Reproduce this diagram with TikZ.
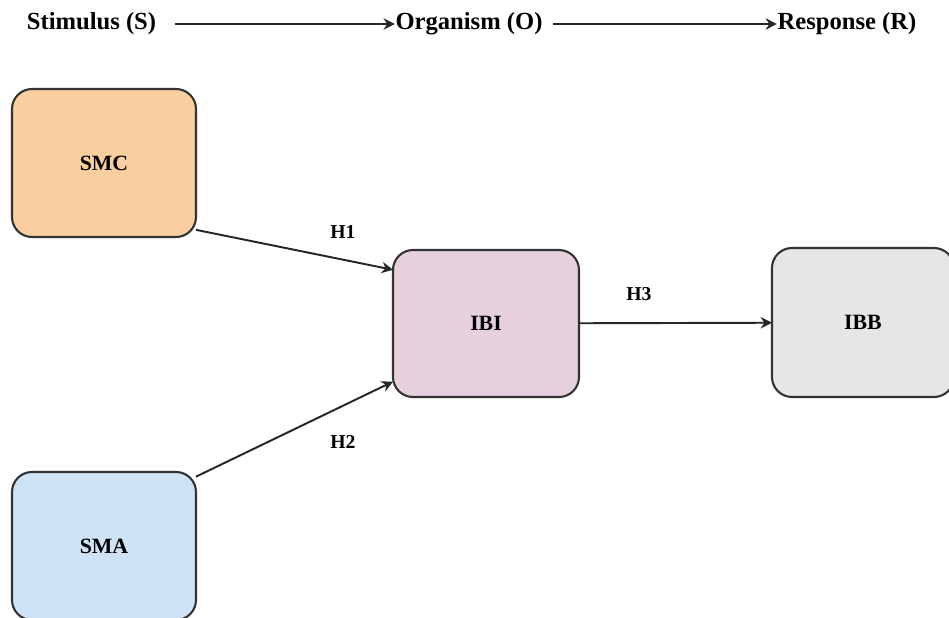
\documentclass[tikz,border=0pt]{standalone}
\usepackage{fontspec}
\setmainfont{Liberation Serif}
\usepackage{tikz}
\usetikzlibrary{arrows.meta}
\definecolor{orange1}{HTML}{FBCE9F}
\definecolor{pink1}{HTML}{E6D0DE}
\definecolor{grey1}{HTML}{E6E6E6}
\definecolor{blue1}{HTML}{CFE3F6}
\definecolor{line1}{HTML}{333333}

\begin{document}
\begin{tikzpicture}[align=center,
  varbox/.style={draw=line1, line width=0.6pt, rounded corners=0.2cm, outer sep=0pt,
    minimum width=1.84cm, minimum height=1.48cm, font=\fontsize{6.2}{7}\selectfont\bfseries},
  head/.style={inner sep=0pt, font=\fontsize{7}{8}\selectfont\bfseries},
  hyp/.style={font=\fontsize{5.6}{6.5}\selectfont\bfseries},
  link/.style={draw=black!85, line width=0.55pt, -{Stealth[length=3.2pt, width=3.2pt]}}]
\clip (0,0) rectangle (9.49,6.17);
\fill[white] (0,0) rectangle (9.49,6.17);

\node[head] (stim) at (0.915,5.93) {Stimulus (S)};
\node[head] (org) at (4.69,5.93) {Organism (O)};
\node[head] (resp) at (8.47,5.93) {Response (R)};

\draw[link] ([xshift=0.18cm]stim.east) -- (org.west);
\draw[link] ([xshift=0.1cm]org.east) -- (resp.west);

\node[varbox, fill=orange1] (smc) at (1.04,4.54) {SMC};
\node[varbox, fill=blue1] (sma) at (1.04,0.71) {SMA};
\node[varbox, fill=pink1, minimum width=1.86cm, minimum height=1.47cm] (ibi) at (4.86,2.935) {IBI};
\node[varbox, fill=grey1, minimum width=1.82cm, minimum height=1.49cm] (ibb) at (8.63,2.945) {IBB};

\draw[link] (smc.-36) -- (ibi.150);
\draw[link] (sma.37) -- (ibi.212);
\draw[link] (ibi) -- (ibb);

\node[hyp] (h1) at (3.43,3.85) {H1};
\node[hyp] (h2) at (3.43,1.75) {H2};
\node[hyp] (h3) at (6.39,3.23) {H3};
\end{tikzpicture}
\end{document}
